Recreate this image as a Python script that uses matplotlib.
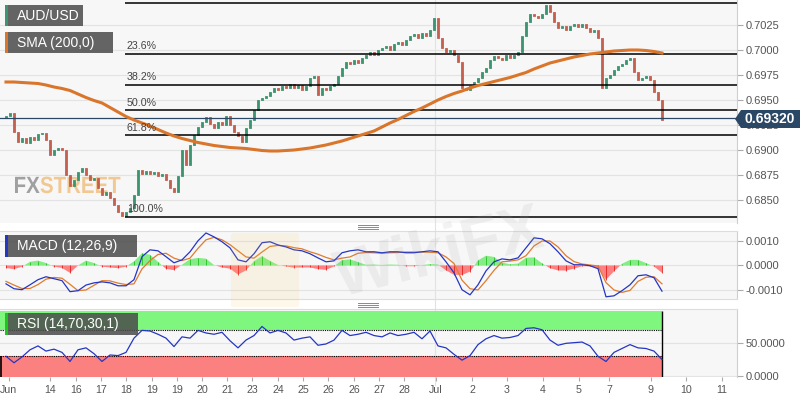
import numpy as np
import matplotlib.pyplot as plt
from matplotlib.patches import Rectangle, Polygon, FancyBboxPatch, PathPatch
from matplotlib.lines import Line2D
from matplotlib.textpath import TextPath
from matplotlib.font_manager import FontProperties
from matplotlib.transforms import Affine2D

plt.rcParams['font.family'] = ['Liberation Sans', 'DejaVu Sans']

# AUD/USD closes
closes = [
    0.6932, 0.6934, 0.6937, 0.6918, 0.6908, 0.6912, 0.6907, 0.6913, 0.6910, 0.6916,
    0.6917, 0.6910, 0.6895, 0.6900, 0.6902, 0.6900, 0.6875, 0.6864, 0.6870, 0.6878,
    0.6882, 0.6875, 0.6870, 0.6872, 0.6862, 0.6855, 0.6858, 0.6852, 0.6845, 0.6838,
    0.6834, 0.6838, 0.6842, 0.6855, 0.6880, 0.6876, 0.6879, 0.6876, 0.6878, 0.6874,
    0.6876, 0.6870, 0.6862, 0.6858, 0.6874, 0.6900, 0.6885, 0.6905, 0.6915, 0.6923,
    0.6928, 0.6933, 0.6926, 0.6922, 0.6928, 0.6925, 0.6934, 0.6925, 0.6918, 0.6914,
    0.6908, 0.6922, 0.6930, 0.6940, 0.6950, 0.6952, 0.6954, 0.6958, 0.6962, 0.6960,
    0.6964, 0.6962, 0.6966, 0.6962, 0.6965, 0.6960, 0.6964, 0.6972, 0.6974, 0.6955,
    0.6962, 0.6960, 0.6964, 0.6966, 0.6974, 0.6982, 0.6988, 0.6986, 0.6990, 0.6987,
    0.6992, 0.6995, 0.6998, 0.6995, 0.7000, 0.7002, 0.7004, 0.7000, 0.7006, 0.7008,
    0.7005, 0.7010, 0.7014, 0.7016, 0.7012, 0.7017, 0.7014, 0.7020, 0.7032, 0.7012,
    0.7002, 0.6998, 0.7000, 0.6995, 0.6988, 0.6962, 0.6960, 0.6964, 0.6968, 0.6972,
    0.6978, 0.6982, 0.6990, 0.6994, 0.6992, 0.6990, 0.6995, 0.6992, 0.6995, 0.6998,
    0.7014, 0.7028, 0.7036, 0.7034, 0.7032, 0.7036, 0.7045, 0.7038, 0.7028, 0.7022,
    0.7024, 0.7020, 0.7024, 0.7026, 0.7023, 0.7026, 0.7022, 0.7018, 0.7020, 0.7012,
    0.6962, 0.6972, 0.6975, 0.6980, 0.6984, 0.6986, 0.6990, 0.6992, 0.6978, 0.6970,
    0.6972, 0.6974, 0.6970, 0.6958, 0.6950, 0.6930,
]

# indicators, one value every second bar
sma_200 = [
    0.6968, 0.6968, 0.69675, 0.6967, 0.69665, 0.6965, 0.6963, 0.69615, 0.69595, 0.6956,
    0.69525, 0.69495, 0.6947, 0.69425, 0.6938, 0.69335, 0.6930, 0.6927, 0.6924, 0.69205,
    0.6917, 0.6914, 0.69115, 0.69095, 0.69075, 0.6906, 0.69045, 0.69035, 0.69025, 0.6902,
    0.69015, 0.69005, 0.68995, 0.6899, 0.6899, 0.68995, 0.6900, 0.6901, 0.6902, 0.69035,
    0.6905, 0.6907, 0.6909, 0.69115, 0.6914, 0.69165, 0.6919, 0.6923, 0.6927, 0.69305,
    0.69345, 0.69385, 0.6942, 0.6946, 0.6950, 0.69535, 0.69565, 0.6959, 0.6962, 0.69645,
    0.69665, 0.69685, 0.69705, 0.69725, 0.6975, 0.69775, 0.6981, 0.6984, 0.6987, 0.6989,
    0.6991, 0.6993, 0.69945, 0.6996, 0.6997, 0.6998, 0.6999, 0.69995, 0.7000, 0.7000,
    0.69995, 0.69985, 0.6997,
]

# MACD and signal in units of 0.0001
macd_pips = [
    -7.5, -9.5, -9.9, -7.9, -5.8, -4.6, -5.4, -6.2, -10.7, -10.3,
    -8.0, -7.1, -6.7, -7.1, -8.3, -8.3, -5.8, 3.6, 6.4, 6.0,
    3.6, 1.1, 2.3, 5.6, 10.1, 13.3, 11.7, 9.7, 7.2, 2.3,
    1.5, 4.8, 9.3, 9.7, 8.4, 7.6, 6.4, 6.0, 4.8, 3.1,
    1.5, 1.9, 5.2, 6.0, 6.4, 5.6, 5.6, 5.2, 5.6, 5.6,
    5.2, 5.2, 5.6, 6.0, 5.6, 1.5, -3.0, -9.9, -12.0, -7.9,
    -2.2, 1.5, 2.7, 2.3, 3.1, 7.2, 11.3, 10.9, 8.9, 5.6,
    1.9, 0.3, 0.3, -0.1, -1.3, -12.8, -12.4, -10.3, -7.9, -4.2,
    -3.8, -5.0, -10.5,
]
signal_pips = [
    -6.5, -8.0, -9.4, -9.4, -7.8, -5.6, -4.9, -5.2, -7.7, -10.3,
    -10.0, -8.1, -6.2, -6.3, -7.2, -7.8, -7.5, -1.4, 2.0, 4.5,
    5.0, 3.0, 2.0, 3.0, 7.0, 10.5, 11.5, 10.5, 8.5, 6.0,
    3.5, 3.0, 5.5, 7.8, 8.2, 8.0, 7.3, 6.8, 5.6, 4.6,
    3.3, 2.3, 3.0, 3.5, 5.0, 5.3, 5.2, 5.0, 5.2, 5.3,
    5.5, 5.5, 5.5, 5.4, 5.2, 3.5, 0.8, -6.0, -9.5, -10.0,
    -6.2, -2.0, 1.5, 1.8, 2.3, 4.0, 8.0, 10.0, 10.0, 7.6,
    4.0, 1.6, 0.6, 0.2, -0.2, -7.0, -10.0, -11.0, -10.2, -6.5,
    -4.8, -4.6, -7.5,
]

rsi_vals = [
    30, 20, 29, 40, 46, 38, 41, 36, 22, 40,
    43, 34, 22, 32, 31, 36, 58, 70, 69, 64,
    58, 45, 60, 58, 70, 66, 64, 67, 54, 43,
    55, 62, 76, 66, 70, 66, 55, 58, 60, 47,
    49, 55, 70, 62, 64, 67, 62, 60, 66, 62,
    64, 67, 57, 69, 46, 43, 33, 24, 31, 48,
    57, 62, 58, 59, 62, 73, 74, 71, 55, 47,
    50, 51, 52, 46, 30, 22, 36, 42, 48, 43,
    42, 38, 25,
]

tick_labels = ['Jun', '14', '16', '17', '18', '19', '19', '20', '21', '23', '24', '25',
               '26', '26', '27', '28', 'Jul', '2', '3', '4', '5', '7', '9', '10', '11']
tick_pos = [1.75, 12, 18.5, 24.75, 31, 37.5, 43.75, 50, 56.25, 62.5, 69, 75.25,
            81.5, 88, 94.25, 100.5, 108.5, 117.5, 126.25, 135.25, 144.25, 151.75,
            162.25, 171, 180]

swing_high = 0.7047
swing_low = 0.6833
fib_pct = [0.0, 23.6, 38.2, 50.0, 61.8, 100.0]
last_price = 0.69320

W, H = 808, 403
GREEN = '#3d9470'
RED = '#c4604f'
GRID = '#e3e3e3'
BG = '#f7f7f7'


def box(l, t, r, b):
    return [l / W, 1 - b / H, (r - l) / W, (b - t) / H]


fig = plt.figure(figsize=(W / 100, H / 100), dpi=100)
fig.patch.set_facecolor('white')

ax = fig.add_axes(box(0, 0, 737, 223))
ax_m = fig.add_axes(box(0, 231, 737, 299), sharex=ax)
ax_r = fig.add_axes(box(0, 309, 737, 377), sharex=ax)

for a in (ax, ax_m, ax_r):
    a.set_facecolor(BG)
    a.yaxis.tick_right()
    a.tick_params(axis='y', length=4, color='#aaaaaa', labelsize=8, labelcolor='#555555', pad=2)
    for s in ('left', 'top', 'bottom'):
        a.spines[s].set_visible(False)
    a.spines['right'].set_color('#cfcfcf')
    a.grid(axis='y', color=GRID, lw=0.8)
    a.set_axisbelow(True)
    a.axvline(108.25, color='#e2e2e2', lw=0.8, zorder=0.5)
for a in (ax_m, ax_r):
    a.spines['top'].set_visible(True)
    a.spines['top'].set_color('#dddddd')
ax_m.spines['bottom'].set_visible(True)
ax_m.spines['bottom'].set_color('#dddddd')

# ---- price panel
c = np.array(closes)
o = np.r_[c[0], c[:-1]]
x = np.arange(len(c))
lo = np.minimum(o, c)
hi = np.maximum(o, c)
up = c >= o
ax.bar(x[up], (hi - lo)[up], bottom=lo[up], width=0.4, color=GREEN, edgecolor=GREEN, lw=0.6, zorder=3)
ax.bar(x[~up], (hi - lo)[~up], bottom=lo[~up], width=0.4, color=RED, edgecolor=RED, lw=0.6, zorder=3)

xi = np.arange(1, len(c) + 1, 2)
ax.plot(xi, sma_200, color='#d9762b', lw=2.2, zorder=4)

xmax = 183.75
ax.set_xlim(-0.5, xmax)
ax.set_ylim(0.6827, 0.7050)
yt = np.arange(0.6850, 0.7026, 0.0025)
ax.set_yticks(yt)
ax.set_yticklabels(['%.4f' % v for v in yt])
ax.tick_params(axis='x', bottom=False, labelbottom=False)

for p in fib_pct:
    lvl = swing_high - (swing_high - swing_low) * p / 100
    ax.hlines(lvl, 30.75, xmax, color='black', lw=1.1, zorder=3.5)
    ax.text(31.2, lvl + 0.00025, '%.1f%%' % p, fontsize=7.7, color='#444444', va='bottom', ha='left', zorder=5)

ax.axhline(last_price, color='#2b4766', lw=0.9, zorder=3.6)

# FXSTREET logo, drawn as squeezed text paths in pixel space
logo_font = FontProperties(family='Liberation Sans', weight='bold')
sx = 0.87
x0 = 15
for word, col in (('FX', '#a0a0a0'), ('STREET', '#f1c892')):
    tp = TextPath((0, 0), word, size=23.5, prop=logo_font)
    ext = tp.get_extents()
    tr = Affine2D().translate(-ext.x0, 0).scale(sx, 1).translate(x0, H - 193)
    ax.add_patch(PathPatch(tp, transform=tr, facecolor=col, edgecolor='none', zorder=1))
    x0 += ext.width * sx + 1

# ---- MACD panel
macd = np.array(macd_pips) * 1e-4
signal = np.array(signal_pips) * 1e-4
hist = macd - signal
pos = hist >= 0
ax_m.fill_between(xi, hist, 0, where=pos, interpolate=True, color='#86ec86', lw=0, zorder=2)
ax_m.fill_between(xi, hist, 0, where=~pos, interpolate=True, color='#ff8080', lw=0, zorder=2)
ax_m.vlines(xi[pos], 0, hist[pos], color='#22c022', lw=0.6, zorder=2.5)
ax_m.vlines(xi[~pos], 0, hist[~pos], color='#e02020', lw=0.6, zorder=2.5)
ax_m.plot(xi, signal, color='#e07b2e', lw=0.9, zorder=3)
ax_m.plot(xi, macd, color='#2536c4', lw=0.9, zorder=4)
ax_m.set_ylim(-0.00137, 0.00141)
ax_m.set_yticks([-0.001, 0.0, 0.001])
ax_m.set_yticklabels(['-0.0010', '0.0000', '0.0010'])
ax_m.tick_params(axis='x', bottom=False, labelbottom=False)

# ---- RSI panel
ax_r.add_patch(Rectangle((-0.5, 70), len(c) - 0.5, 30, facecolor='#7ff77f', edgecolor='none', zorder=1))
ax_r.add_patch(Rectangle((-0.5, -2), len(c) - 0.5, 32, facecolor='#fb8080', edgecolor='none', zorder=1))
ax_r.hlines([70, 30], -0.5, len(c) - 1, colors='black', lw=0.8, linestyles=(0, (1, 1)), zorder=2)
ax_r.vlines(len(c) - 1, -2, 100, color='black', lw=1.0, zorder=2)
ax_r.vlines(-0.3, -2, 30, color='black', lw=1.2, zorder=2)
ax_r.plot(xi, rsi_vals, color='#2536c4', lw=0.9, zorder=3)
ax_r.set_ylim(-2, 103)
ax_r.set_yticks([0, 50])
ax_r.set_yticklabels(['0.0000', '50.0000'])
ax_r.set_xticks(tick_pos)
ax_r.set_xticklabels(tick_labels)
ax_r.tick_params(axis='x', length=3, color='#aaaaaa', labelsize=7.7, labelcolor='#555555', pad=3)

# Jul line through the gaps
fig.add_artist(Line2D([435 / W] * 2, [1 - 385 / H, 1], color='#e2e2e2', lw=0.8, zorder=-1))

# panel handles
for yy in (224.5, 226.5, 228.5, 303, 305, 307):
    fig.add_artist(Line2D([358 / W, 378 / W], [1 - yy / H] * 2, color='#8a8a8a', lw=0.7, zorder=6))


# legend tags
def tag(text, l, t, r, b, strip):
    fig.add_artist(Rectangle((l / W, 1 - b / H), (r - l) / W, (b - t) / H, transform=fig.transFigure,
                             facecolor='#4a4a4a', alpha=0.85, edgecolor='none', zorder=6))
    fig.add_artist(Rectangle((l / W, 1 - b / H), 3 / W, (b - t) / H, transform=fig.transFigure,
                             facecolor=strip, edgecolor='none', zorder=7))
    fig.text((l + 12) / W, 1 - (t + b) / 2 / H, text, color='white', fontsize=10, va='center',
             ha='left', zorder=8)


tag('AUD/USD', 5, 5, 83, 26, '#3d9470')
tag('SMA (200,0)', 5, 32, 113, 53, '#d9762b')
tag('MACD (12,26,9)', 5, 235, 137, 257, '#2536c4')
tag('RSI (14,70,30,1)', 5, 313, 138, 335, '#22c422')

# last price tag
pts = [(735, 119), (741, 110), (800, 110), (800, 128), (741, 128)]
fig.add_artist(Polygon([(px / W, 1 - py / H) for px, py in pts], closed=True, transform=fig.transFigure,
                       facecolor='#2b4766', edgecolor='none', zorder=9))
fig.text(770 / W, 1 - 119 / H, '%.5f' % last_price, color='white', fontsize=10, fontweight='bold',
         va='center', ha='center', zorder=10)

# faint WikiFX watermark
fig.text(440 / W, 1 - 255 / H, 'WikiFX', fontsize=46, fontweight='bold', color='#999999', alpha=0.13,
         rotation=14, ha='center', va='center', zorder=9)
fig.add_artist(FancyBboxPatch((235 / W, 1 - 305 / H), 60 / W, 70 / H, boxstyle='round,pad=0.005',
                              transform=fig.transFigure, facecolor='#f3c65a', alpha=0.12,
                              edgecolor='none', zorder=9))

fig.savefig('out.png', dpi=100)
